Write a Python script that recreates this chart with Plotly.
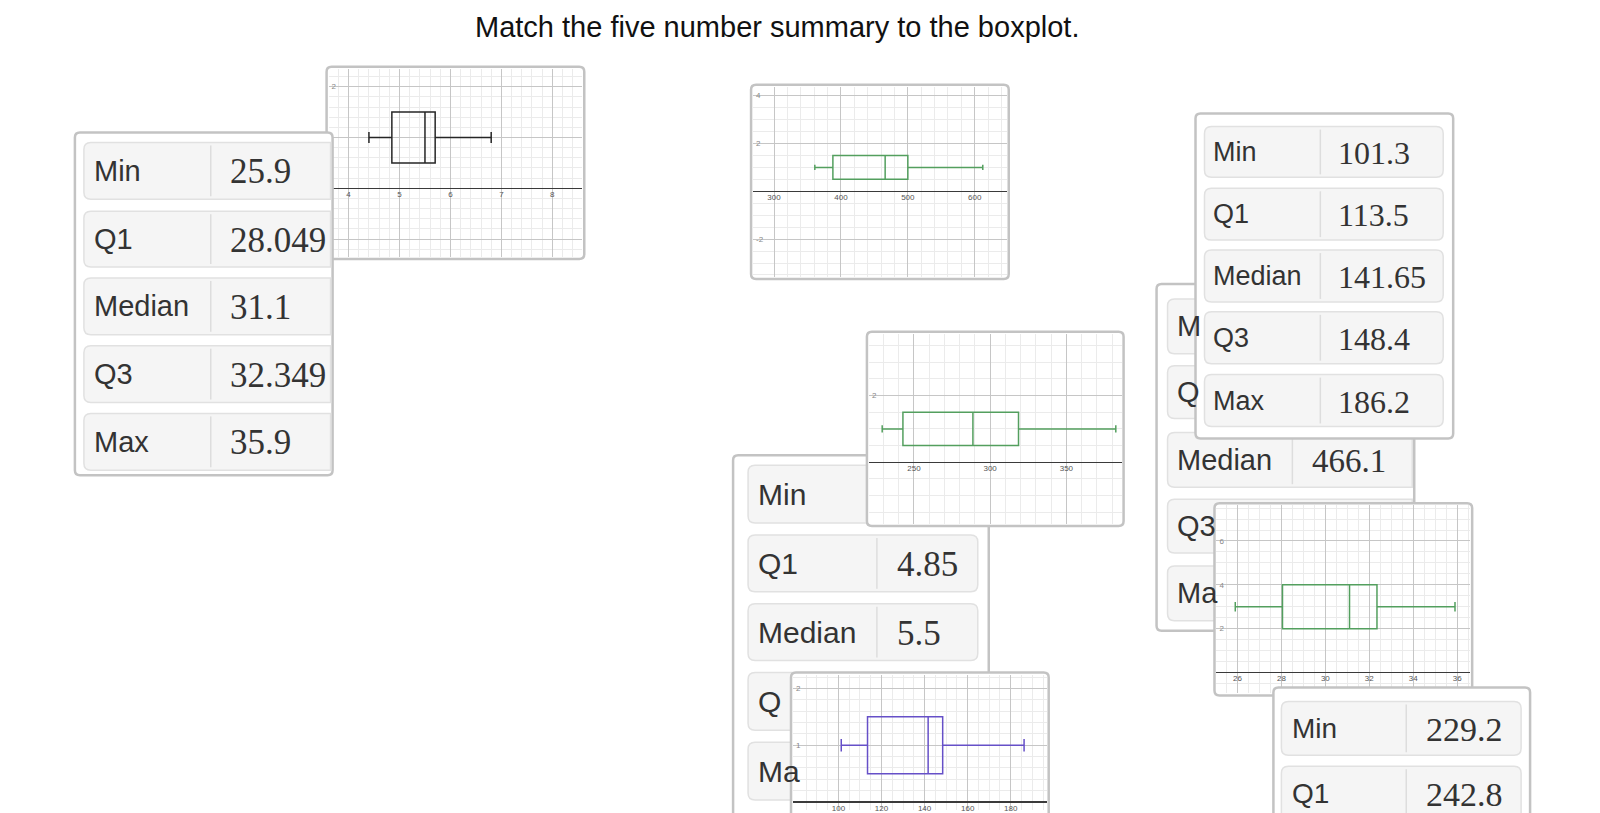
import plotly.graph_objects as go

W, H = 1600, 813

TITLE = "Match the five number summary to the boxplot."
STAT_LABELS = ["Min", "Q1", "Median", "Q3", "Max"]

# five number summaries: [min, q1, median, q3, max]
summary_a = [25.9, 28.049, 31.1, 32.349, 35.9]
summary_b = [4.4, 4.85, 5.5, 5.7, 6.8]
summary_c = [361, 388, 466.1, 500, 612]
summary_d = [101.3, 113.5, 141.65, 148.4, 186.2]
summary_e = [229.2, 242.8, 288.7, 318.6, 382.4]

# axis tick labels of the five small graphs
ticks_1 = [4, 5, 6, 7, 8]
ticks_2 = [300, 400, 500, 600]
ticks_3 = [250, 300, 350]
ticks_4 = [80, 100, 120, 140, 160, 180]
ticks_5 = [26, 28, 30, 32, 34, 36]
yticks_1 = [-1, 1, 2]
yticks_2 = [-2, 2, 4]
yticks_3 = [2]
yticks_4 = [1, 2]
yticks_5 = [2, 4, 6]
# y labels of graph 1 that sit under the left card
yhidden_1 = [-1, 1]

GREEN = "#539f5e"
PURPLE = "#6650c8"
BLACK = "#262626"
MAJOR = "#c6c6c6"
MINOR = "#ebebeb"
CARD_LINE = "#c3c3c3"
ROW_FILL = "#f5f5f5"
ROW_LINE = "#e1e1e1"
TEXT = "#333333"
SANS = "Liberation Sans, Arial, sans-serif"
SERIF = "Liberation Serif, Times New Roman, serif"
TXT_DX = -2.5


def X(px):
    return px / W


def Y(py):
    return 1 - py / H


def pt(px, py):
    return f"{X(px):.6f},{Y(py):.6f}"


def rr_path(x0, y0, x1, y1, rl, rr):
    p = f"M {pt(x0 + rl, y0)} L {pt(x1 - rr, y0)} "
    if rr > 0:
        p += f"Q {pt(x1, y0)} {pt(x1, y0 + rr)} "
    p += f"L {pt(x1, y1 - rr)} "
    if rr > 0:
        p += f"Q {pt(x1, y1)} {pt(x1 - rr, y1)} "
    p += (f"L {pt(x0 + rl, y1)} Q {pt(x0, y1)} {pt(x0, y1 - rl)} "
          f"L {pt(x0, y0 + rl)} Q {pt(x0, y0)} {pt(x0 + rl, y0)} Z")
    return p


def card_shape(box, layer, r=5):
    x0, y0, x1, y1 = box
    return dict(type="path", xref="paper", yref="paper", layer=layer,
                path=rr_path(x0, y0, x1, y1, r, r),
                fillcolor="white", line=dict(color=CARD_LINE, width=2.5))


graphs = [
    dict(card=(325, 67, 583, 260), xr=[3.608, 8.588], yr=[-1.353, 2.353],
         xt=ticks_1, xm=0.2, yt=yticks_1, yh=yhidden_1, ym=0.2, color=BLACK,
         s=summary_b, pos=1, bw=1),
    dict(card=(750, 85, 1008, 280), xr=[268.7, 647.8], yr=[-3.583, 4.375],
         xt=ticks_2, xm=20, yt=yticks_2, ym=0.5, color=GREEN, s=summary_c, pos=1, bw=1),
    dict(card=(866, 333, 1123, 528), xr=[220.5, 386.2], yr=[-1.851, 3.851],
         xt=ticks_3, xm=10, yt=yticks_3, ym=0.5, color=GREEN, s=summary_e, pos=1, bw=1),
    dict(card=(790, 675, 1048, 840), bottom=813, xr=[78.9, 196.7], yr=[-0.14, 2.246],
         xt=ticks_4, xm=5, yt=yticks_4, ym=0.2, color=PURPLE, s=summary_d, pos=1, bw=1),
    dict(card=(1214, 505, 1472, 698), xr=[25.045, 36.59], yr=[-0.955, 7.636],
         xt=ticks_5, xm=0.5, yt=yticks_5, ym=0.5, color=GREEN, s=summary_a, pos=3, bw=2),
]

tables = [
    dict(card=(73, 133, 331, 477), row_x=(82, 329), rr=0, div=209,
         rows=[(143, 200), (212, 268), (279, 336), (347, 404), (415, 472)],
         lx=93, vx=229, lfs=29, vfs=35, labels=STAT_LABELS, values=summary_a,
         show=[True] * 5, layer="above"),
    dict(card=(732, 457, 988, 840), row_x=(747, 977), rr=7, div=876,
         rows=[(467, 525), (537, 594), (606, 663), (675, 733), (745, 803)],
         lx=757, vx=897, lfs=30, vfs=35, labels=["Min", "Q1", "Median", "Q", "Ma"],
         values=summary_b, show=[False, True, True, False, False], layer="below"),
    dict(card=(1156, 285, 1414, 633), row_x=(1167, 1412), rr=0, div=1292,
         rows=[(300, 355), (367, 420), (434, 489), (501, 555), (568, 623)],
         lx=1177, vx=1312, lfs=29, vfs=33, labels=["M", "Q", "Median", "Q3", "Ma"],
         values=summary_c, show=[False, False, True, False, False], layer="below"),
    dict(card=(1195, 114, 1453, 440), row_x=(1204, 1443), rr=7, div=1320,
         rows=[(127, 178), (189, 241), (251, 303), (313, 365), (376, 428)],
         lx=1213, vx=1338, lfs=27, vfs=32, labels=STAT_LABELS, values=summary_d,
         show=[True] * 5, layer="below"),
    dict(card=(1273, 690, 1530, 840), row_x=(1281, 1521), rr=7, div=1406,
         rows=[(704, 758), (769, 823)],
         lx=1292, vx=1426, lfs=28, vfs=34, labels=["Min", "Q1"], values=summary_e[:2],
         show=[True, True], layer="above"),
]

shapes = []
annotations = []


def add_table(t):
    layer = t["layer"]
    shapes.append(card_shape(t["card"], layer))
    x0, x1 = t["row_x"]
    for i, (ya, yb) in enumerate(t["rows"]):
        shapes.append(dict(type="path", xref="paper", yref="paper", layer=layer,
                           path=rr_path(x0, ya, x1, yb, 7, t["rr"]),
                           fillcolor=ROW_FILL, line=dict(color=ROW_LINE, width=1.5)))
        shapes.append(dict(type="line", xref="paper", yref="paper", layer=layer,
                           x0=X(t["div"]), x1=X(t["div"]), y0=Y(ya + 3), y1=Y(yb - 3),
                           line=dict(color="#dddddd", width=1.5)))
        yc = (ya + yb) / 2
        annotations.append(dict(xref="paper", yref="paper", x=X(t["lx"] + TXT_DX), y=Y(yc),
                                xanchor="left", yanchor="middle", showarrow=False,
                                text=t["labels"][i],
                                font=dict(family=SANS, size=t["lfs"], color=TEXT)))
        if t["show"][i]:
            annotations.append(dict(xref="paper", yref="paper", x=X(t["vx"] + TXT_DX),
                                    y=Y(yc + 1), xanchor="left", yanchor="middle",
                                    showarrow=False, text=f"{t['values'][i]:g}",
                                    font=dict(family=SERIF, size=t["vfs"], color=TEXT)))


fig = go.Figure()
layout_axes = {}


def add_graph(k, g):
    shapes.append(card_shape(g["card"], "below"))
    c0, c1, c2, c3 = g["card"]
    bottom = g.get("bottom", c3 - 2)
    dx = [X(c0 + 2), X(c2 - 2)]
    dy = [Y(bottom), Y(c1 + 2)]
    r0, r1 = g["yr"]
    zero_pos = dy[0] + (0 - r0) / (r1 - r0) * (dy[1] - dy[0])
    xname = "x" if k == 1 else f"x{k}"
    yname = "y" if k == 1 else f"y{k}"
    hidden = g.get("yh", [])
    layout_axes["xaxis" if k == 1 else f"xaxis{k}"] = dict(
        domain=dx, range=g["xr"], anchor="free", position=zero_pos, side="bottom",
        tickmode="array", tickvals=g["xt"], ticktext=[str(v) for v in g["xt"]],
        ticklabeloverflow="allow",
        showgrid=True, gridcolor=MAJOR, gridwidth=1,
        minor=dict(tickmode="linear", tick0=0, dtick=g["xm"], showgrid=True,
                   gridcolor=MINOR, gridwidth=1, ticks=""),
        zeroline=False, showline=False, ticks="",
        tickfont=dict(family=SANS, size=8, color="#555555"), fixedrange=True)
    layout_axes["yaxis" if k == 1 else f"yaxis{k}"] = dict(
        domain=dy, range=g["yr"], anchor=xname,
        tickmode="array", tickvals=g["yt"],
        ticktext=["" if v in hidden else str(v) for v in g["yt"]],
        showgrid=True, gridcolor=MAJOR, gridwidth=1,
        minor=dict(tickmode="linear", tick0=0, dtick=g["ym"], showgrid=True,
                   gridcolor=MINOR, gridwidth=1, ticks=""),
        zeroline=True, zerolinecolor="#3a3a3a", zerolinewidth=1.5,
        showline=False, ticks="", ticklabelposition="inside",
        tickfont=dict(family=SANS, size=8, color="#888888"), fixedrange=True)
    s = g["s"]
    fig.add_trace(go.Box(
        orientation="h", y=[g["pos"]], lowerfence=[s[0]], q1=[s[1]], median=[s[2]],
        q3=[s[3]], upperfence=[s[4]], width=g["bw"], whiskerwidth=0.22,
        line=dict(color=g["color"], width=1.5), fillcolor="rgba(0,0,0,0)",
        boxpoints=False, hoverinfo="skip", showlegend=False,
        xaxis=xname, yaxis=yname))


# stacking order (back to front)
add_graph(1, graphs[0])
add_graph(2, graphs[1])
add_table(tables[1])
add_graph(3, graphs[2])
add_graph(4, graphs[3])
add_table(tables[2])
add_table(tables[3])
add_graph(5, graphs[4])
add_table(tables[0])
add_table(tables[4])

annotations.insert(0, dict(xref="paper", yref="paper", x=X(776), y=Y(27),
                           xanchor="center", yanchor="middle", showarrow=False,
                           text=TITLE, font=dict(family=SANS, size=29, color="#111111")))

fig.update_layout(
    width=W, height=H, margin=dict(l=0, r=0, t=0, b=0, pad=0),
    paper_bgcolor="white", plot_bgcolor="rgba(0,0,0,0)",
    showlegend=False, shapes=shapes, annotations=annotations,
    **layout_axes)

fig.write_html("out.html", config={"displayModeBar": False, "staticPlot": True},
               post_script="document.body.style.margin='0';document.body.style.overflow='hidden';")
